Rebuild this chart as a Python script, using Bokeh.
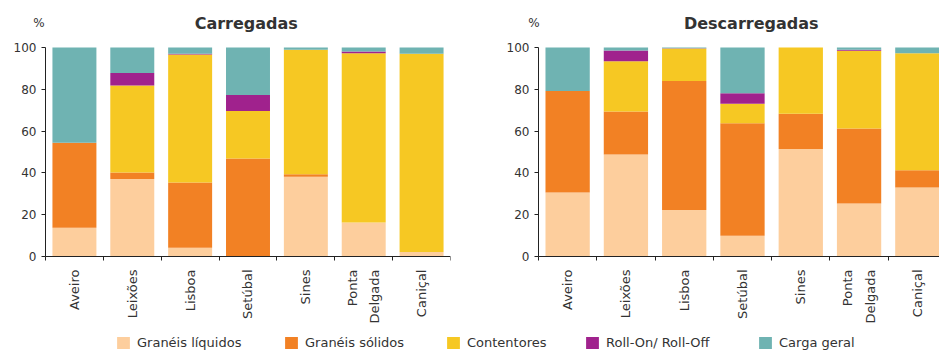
import math
from bokeh.plotting import figure
from bokeh.models import Range1d, FixedTicker, Legend, LegendItem, Label, ColumnDataSource
from bokeh.layouts import column, row
from bokeh.embed import file_html
from bokeh.resources import INLINE

# ---------------- data ----------------
ports = ["Aveiro", "Leixões", "Lisboa", "Setúbal", "Sines", "Ponta\nDelgada", "Caniçal"]
series = ["Granéis líquidos", "Granéis sólidos", "Contentores", "Roll-On/ Roll-Off", "Carga geral"]
colors = ["#FDCE9D", "#F28124", "#F6C823", "#A0228D", "#6FB3B2"]

# Carregadas (%)
carr_liquidos    = [13.8, 37.1, 4.2, 0.0, 38.1, 16.3, 2.1]
carr_solidos     = [40.6, 3.1, 31.2, 46.9, 1.3, 0.0, 0.0]
carr_contentores = [0.0, 41.6, 61.2, 22.7, 59.5, 81.0, 94.9]
carr_roro        = [0.0, 6.0, 0.4, 7.7, 0.0, 0.8, 0.0]
carr_carga       = [45.6, 12.2, 3.0, 22.7, 1.1, 1.9, 3.0]

# Descarregadas (%)
desc_liquidos    = [30.6, 48.8, 22.2, 9.9, 51.4, 25.3, 33.0]
desc_solidos     = [48.6, 20.6, 61.8, 53.9, 16.9, 36.0, 8.3]
desc_contentores = [0.0, 24.0, 15.5, 9.3, 31.7, 37.1, 56.0]
desc_roro        = [0.0, 5.2, 0.2, 5.0, 0.0, 0.5, 0.0]
desc_carga       = [20.8, 1.4, 0.3, 21.9, 0.0, 1.1, 2.7]

y_ticks = [0, 20, 40, 60, 80, 100]

FONT = "DejaVu Sans"
TXT = "#333333"
AX = "#222222"
PX_PER_PCT = 2.09                  # 100 % spans 209 px
Y_TOP = 254 / PX_PER_PCT           # room above 100 % for the title row
Y_BOTTOM = -72 / PX_PER_PCT        # room below 0 for the category labels
TITLE_Y = 111.5


def make_chart(title, values, width, border_right, x_start, x_end, title_x, pct_offset):
    n = len(ports)
    centers = [i + 0.5 for i in range(n)]
    bounds = list(range(n + 1))
    data = {"x": centers}
    keys = []
    for i, v in enumerate(values):
        k = "s%d" % i
        data[k] = v
        keys.append(k)
    src = ColumnDataSource(data)
    p = figure(width=width, height=330, output_backend="svg", toolbar_location=None,
               x_range=Range1d(x_start, x_end), y_range=Range1d(Y_BOTTOM, Y_TOP),
               min_border_left=8, min_border_right=border_right,
               min_border_top=2, min_border_bottom=2)
    p.vbar_stack(keys, x="x", width=0.76, source=src, color=colors, line_width=0)
    p.outline_line_color = None
    p.xgrid.visible = False
    p.ygrid.visible = False
    p.background_fill_color = "white"
    p.border_fill_color = "white"

    # y axis, pinned at the first category boundary
    ya = p.yaxis[0]
    ya.fixed_location = 0
    ya.ticker = FixedTicker(ticks=y_ticks, minor_ticks=[])
    ya.bounds = (0, 100)
    ya.major_tick_out = 4
    ya.major_tick_in = 0
    ya.axis_line_color = AX
    ya.major_tick_line_color = AX
    ya.major_label_text_font = FONT
    ya.major_label_text_font_size = "12px"
    ya.major_label_text_color = TXT
    ya.major_label_standoff = 5

    # x axis, pinned at 0 %
    xa = p.xaxis[0]
    xa.fixed_location = 0
    xa.bounds = (0, max(x_end, n))
    xa.ticker = FixedTicker(ticks=centers, minor_ticks=bounds)
    xa.major_label_overrides = {c: nm for c, nm in zip(centers, ports)}
    xa.major_tick_out = 0
    xa.major_tick_in = 0
    xa.minor_tick_out = 4
    xa.minor_tick_in = 0
    xa.minor_tick_line_color = AX
    xa.axis_line_color = AX
    xa.major_label_orientation = math.pi / 2
    xa.major_label_text_font = FONT
    xa.major_label_text_font_size = "13px"
    xa.major_label_text_line_height = 1.5
    xa.major_label_text_color = TXT
    xa.major_label_standoff = 9

    p.add_layout(Label(x=title_x, y=TITLE_Y, text=title, text_align="center",
                       text_baseline="middle", text_font=FONT, text_font_size="16px",
                       text_font_style="bold", text_color=TXT))
    p.add_layout(Label(x=0, y=TITLE_Y, x_offset=pct_offset, text="%", text_align="center",
                       text_baseline="middle", text_font=FONT, text_font_size="12px",
                       text_color=TXT))
    return p


# left chart: frame 8..450 px, category step ~57.9 px, axis at 45 px
p1 = make_chart("Carregadas",
                [carr_liquidos, carr_solidos, carr_contentores, carr_roro, carr_carga],
                width=480, border_right=30, x_start=-37 / 57.86, x_end=7, title_x=3.47,
                pct_offset=-6.5)
# right chart: frame 488..939 px, step ~58.3 px, axis at 538 px
p2 = make_chart("Descarregadas",
                [desc_liquidos, desc_solidos, desc_contentores, desc_roro, desc_carga],
                width=459, border_right=0, x_start=-50 / 58.3, x_end=6.88, title_x=3.65,
                pct_offset=-4.5)

# legend strip
leg = figure(width=939, height=21, output_backend="svg", toolbar_location=None,
             x_range=Range1d(0, 1), y_range=Range1d(0, 1),
             min_border_left=0, min_border_right=0, min_border_top=0, min_border_bottom=0)
leg.axis.visible = False
leg.xgrid.visible = False
leg.ygrid.visible = False
leg.outline_line_color = None
legend_x = [115, 283, 445, 584, 757]
for name, c, lx in zip(series, colors, legend_x):
    # zero-height proxy bar: only used to give the legend its swatch
    r = leg.vbar(x=[0.5], top=[0], bottom=[0], width=0.1, fill_color=c, line_color=None)
    lg = Legend(items=[LegendItem(label=name, renderers=[r])], location=(lx, 1),
                orientation="horizontal", glyph_width=16, glyph_height=15,
                label_standoff=6, label_text_font=FONT, label_text_font_size="13px",
                label_text_color=TXT, label_height=15, padding=0, margin=0, spacing=0,
                border_line_color=None, background_fill_alpha=0)
    leg.add_layout(lg, "center")

layout = column(row(p1, p2), leg)
open("out.html", "w").write(file_html(layout, INLINE))
